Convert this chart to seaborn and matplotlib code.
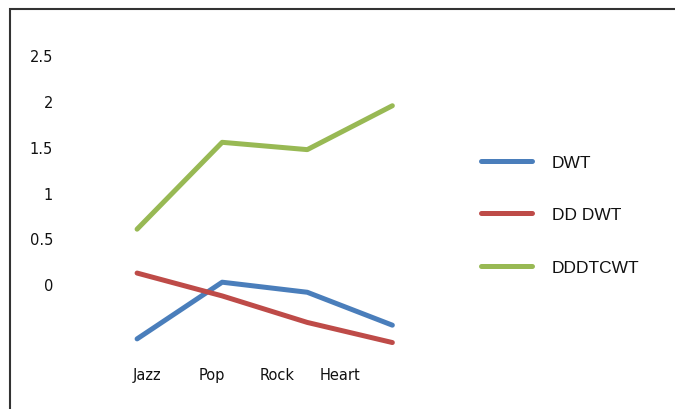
import matplotlib
matplotlib.use("Agg")
import matplotlib.pyplot as plt
import seaborn as sns
import pandas as pd
from matplotlib.patches import Rectangle

categories = ["Jazz", "Pop", "Rock", "Heart"]
dwt = [-0.60, 0.02, -0.09, -0.45]
dd_dwt = [0.12, -0.13, -0.42, -0.64]
dddtcwt = [0.60, 1.55, 1.47, 1.95]
series_names = ["DWT", "DD DWT", "DDDTCWT"]
y_ticks = [0, 0.5, 1, 1.5, 2, 2.5]
y_tick_labels = ["0", "0.5", "1", "1.5", "2", "2.5"]

colors = ["#4A7EBB", "#BE4B48", "#98B954"]

sns.set_theme(style="white")
plt.rcParams["font.family"] = ["DejaVu Sans"]

rows = []
for name, vals in zip(series_names, [dwt, dd_dwt, dddtcwt]):
    for i, v in enumerate(vals):
        rows.append({"idx": i, "value": v, "series": name})
df = pd.DataFrame(rows)

fig = plt.figure(figsize=(6.75, 4.10), dpi=100)
ax = fig.add_axes([60 / 675, 50 / 410, 380 / 675, 320 / 410])

sns.lineplot(data=df, x="idx", y="value", hue="series", hue_order=series_names,
             palette=colors, linewidth=3.6, ax=ax, legend=False)

ax.set_xlim(-0.906, 3.56)
ax.set_ylim(-0.82, 2.68)
ax.set_yticks(y_ticks)
ax.set_yticklabels(y_tick_labels, fontsize=10.5, color="#111111")
ax.set_xticks([0.12, 0.88, 1.65, 2.39])
ax.set_xticklabels(categories, fontsize=10.5, color="#111111")
ax.tick_params(axis="both", length=0)
ax.tick_params(axis="y", pad=5)
ax.tick_params(axis="x", pad=6)
ax.set_xlabel("")
ax.set_ylabel("")
for s in ax.spines.values():
    s.set_visible(False)

# Outer chart frame
fig.patches.append(Rectangle((10 / 675, -0.05), 1.2, 400 / 410 + 0.05,
                             transform=fig.transFigure, fill=False,
                             edgecolor="#333333", linewidth=1.5))

handles = [plt.Line2D([], [], color=c, linewidth=3.6) for c in colors]
fig.legend(handles, series_names, loc="upper left",
           bbox_to_anchor=(465 / 675, 1 - 140 / 410), frameon=False,
           prop={"family": "Liberation Sans", "size": 12.5},
           labelcolor="#111111",
           handlelength=2.95, handletextpad=1.15, labelspacing=2.15)

fig.savefig("out.png", dpi=100)
